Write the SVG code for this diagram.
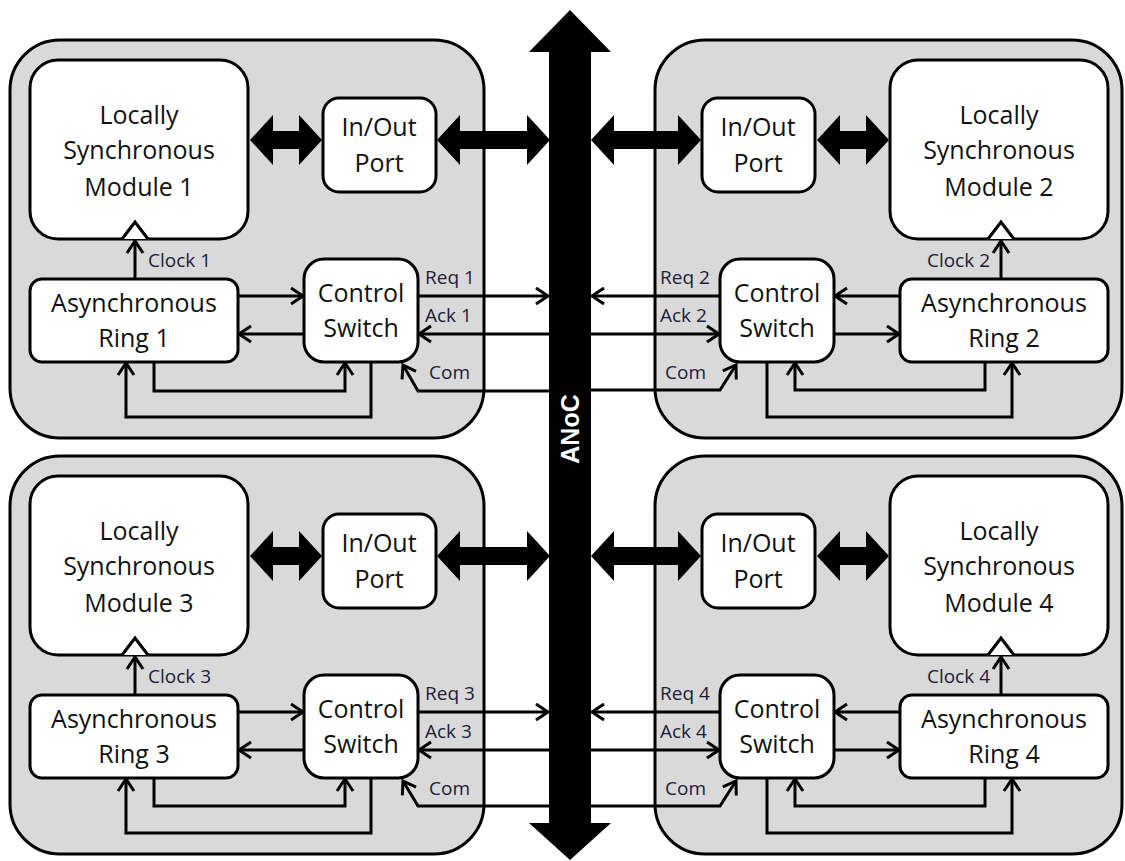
<svg xmlns="http://www.w3.org/2000/svg" width="1125" height="861" viewBox="0 0 1125 861">
<style>
.outer{fill:#d9d9d9;stroke:#000;stroke-width:3}
.box{fill:#fff;stroke:#000;stroke-width:3}
.t{font-family:"Open Sans","Liberation Sans",sans-serif;font-size:25px;fill:#111;text-anchor:middle}
.l{font-family:"Open Sans","Liberation Sans",sans-serif;font-size:19px;fill:#1c1c3c}
.w{fill:none;stroke:#000;stroke-width:3;marker-end:url(#ah)}
.clk{fill:#fff;stroke:#000;stroke-width:3}
.bus{fill:#000}
</style>
<defs>
<marker id="ah" markerUnits="userSpaceOnUse" markerWidth="18" markerHeight="20" viewBox="0 0 18 20" refX="15" refY="10" orient="auto">
<path d="M3,2 L15,10 L3,18" fill="none" stroke="#000" stroke-width="3"/>
</marker>
</defs>

<!-- quadrant frames -->
<g id="tile1"><rect class="outer" x="10" y="40" width="474" height="398" rx="50"/></g>
<g id="tile2"><rect class="outer" x="655" y="40" width="467" height="398" rx="50"/></g>
<g id="tile3"><rect class="outer" x="10" y="456" width="474" height="398" rx="50"/></g>
<g id="tile4"><rect class="outer" x="655" y="456" width="467" height="398" rx="50"/></g>

<!-- ANoC bus -->
<g id="anoc">
<polygon class="bus" points="570,10 611,52 591,52 591,823 611,823 570,860 529,823 549,823 549,52 529,52"/>
<text transform="translate(579,429) rotate(-90)" font-family="Liberation Sans,Arial,sans-serif" font-weight="bold" font-size="25" fill="#fff" text-anchor="middle">ANoC</text>
</g>

<!-- connectors -->
<g id="connectors">
<!-- thick data arrows -->
<polygon class="bus" points="250,140 273,115 273,131 299,131 299,115 322,140 299,165 299,149 273,149 273,165"/>
<polygon class="bus" points="437,140 460,115 460,131 527,131 527,115 550,140 527,165 527,149 460,149 460,165"/>
<polygon class="bus" points="591,140 614,115 614,131 678,131 678,115 701,140 678,165 678,149 614,149 614,165"/>
<polygon class="bus" points="817,140 840,115 840,131 866,131 866,115 889,140 866,165 866,149 840,149 840,165"/>
<polygon class="bus" points="250,556 273,531 273,547 299,547 299,531 322,556 299,581 299,565 273,565 273,581"/>
<polygon class="bus" points="437,556 460,531 460,547 527,547 527,531 550,556 527,581 527,565 460,565 460,581"/>
<polygon class="bus" points="591,556 614,531 614,547 678,547 678,531 701,556 678,581 678,565 614,565 614,581"/>
<polygon class="bus" points="817,556 840,531 840,547 866,547 866,531 889,556 866,581 866,565 840,565 840,581"/>

<!-- quadrant 1 -->
<path class="w" d="M135,279 V241"/>
<path class="w" d="M238,296 H303"/>
<path class="w" d="M304,334 H239"/>
<path class="w" d="M418,296 H548"/>
<path class="w" d="M549,334 H419"/>
<path class="w" d="M549,391 H418 L403,365"/>
<path class="w" d="M154,362 V391 H345 V363"/>
<path class="w" d="M371,362 V417 H126 V363"/>
<!-- quadrant 2 -->
<path class="w" d="M1001,279 V241"/>
<path class="w" d="M900,296 H835"/>
<path class="w" d="M834,334 H899"/>
<path class="w" d="M720,296 H592"/>
<path class="w" d="M591,334 H719"/>
<path class="w" d="M591,390 H720 L736,365"/>
<path class="w" d="M985,362 V390 H795 V363"/>
<path class="w" d="M767,362 V417 H1012 V363"/>
<!-- quadrant 3 -->
<path class="w" d="M135,695 V657"/>
<path class="w" d="M238,712 H303"/>
<path class="w" d="M304,750 H239"/>
<path class="w" d="M418,712 H548"/>
<path class="w" d="M549,750 H419"/>
<path class="w" d="M549,806 H418 L403,781"/>
<path class="w" d="M154,778 V806 H345 V779"/>
<path class="w" d="M371,778 V833 H126 V779"/>
<!-- quadrant 4 -->
<path class="w" d="M1001,695 V657"/>
<path class="w" d="M900,712 H835"/>
<path class="w" d="M834,750 H899"/>
<path class="w" d="M720,712 H592"/>
<path class="w" d="M591,750 H719"/>
<path class="w" d="M591,806 H720 L736,781"/>
<path class="w" d="M985,778 V806 H795 V779"/>
<path class="w" d="M767,778 V833 H1012 V779"/>

<!-- labels -->
<text class="l" x="148" y="267">Clock 1</text>
<text class="l" x="425" y="284">Req 1</text>
<text class="l" x="425" y="322">Ack 1</text>
<text class="l" x="429" y="379">Com</text>
<text class="l" x="990" y="267" text-anchor="end">Clock 2</text>
<text class="l" x="660" y="284">Req 2</text>
<text class="l" x="660" y="322">Ack 2</text>
<text class="l" x="665" y="379">Com</text>
<text class="l" x="148" y="683">Clock 3</text>
<text class="l" x="425" y="700">Req 3</text>
<text class="l" x="425" y="738">Ack 3</text>
<text class="l" x="429" y="795">Com</text>
<text class="l" x="990" y="683" text-anchor="end">Clock 4</text>
<text class="l" x="660" y="700">Req 4</text>
<text class="l" x="660" y="738">Ack 4</text>
<text class="l" x="665" y="795">Com</text>
</g>

<!-- quadrant 1 nodes -->
<g id="module1"><rect class="box" x="30" y="60" width="218" height="179" rx="28"/><polyline class="clk" points="122,239 135,222 148,239"/>
<text class="t" x="139" y="124">Locally</text><text class="t" x="139" y="159">Synchronous</text><text class="t" x="139" y="196">Module 1</text></g>
<g id="port1"><rect class="box" x="323" y="98" width="113" height="94" rx="16"/>
<text class="t" x="379" y="136">In/Out</text><text class="t" x="379" y="172">Port</text></g>
<g id="ring1"><rect class="box" x="30" y="279" width="208" height="83" rx="12"/>
<text class="t" x="134" y="312">Asynchronous</text><text class="t" x="134" y="347">Ring 1</text></g>
<g id="switch1"><rect class="box" x="304" y="259" width="114" height="103" rx="20"/>
<text class="t" x="361" y="302">Control</text><text class="t" x="361" y="337">Switch</text></g>

<!-- quadrant 2 nodes -->
<g id="module2"><rect class="box" x="890" y="60" width="218" height="179" rx="28"/><polyline class="clk" points="988,239 1001,222 1014,239"/>
<text class="t" x="999" y="124">Locally</text><text class="t" x="999" y="159">Synchronous</text><text class="t" x="999" y="196">Module 2</text></g>
<g id="port2"><rect class="box" x="702" y="98" width="113" height="94" rx="16"/>
<text class="t" x="758" y="136">In/Out</text><text class="t" x="758" y="172">Port</text></g>
<g id="ring2"><rect class="box" x="900" y="279" width="208" height="83" rx="12"/>
<text class="t" x="1004" y="312">Asynchronous</text><text class="t" x="1004" y="347">Ring 2</text></g>
<g id="switch2"><rect class="box" x="720" y="259" width="114" height="103" rx="20"/>
<text class="t" x="777" y="302">Control</text><text class="t" x="777" y="337">Switch</text></g>

<!-- quadrant 3 nodes -->
<g id="module3"><rect class="box" x="30" y="476" width="218" height="179" rx="28"/><polyline class="clk" points="122,655 135,638 148,655"/>
<text class="t" x="139" y="540">Locally</text><text class="t" x="139" y="575">Synchronous</text><text class="t" x="139" y="612">Module 3</text></g>
<g id="port3"><rect class="box" x="323" y="514" width="113" height="94" rx="16"/>
<text class="t" x="379" y="552">In/Out</text><text class="t" x="379" y="588">Port</text></g>
<g id="ring3"><rect class="box" x="30" y="695" width="208" height="83" rx="12"/>
<text class="t" x="134" y="728">Asynchronous</text><text class="t" x="134" y="763">Ring 3</text></g>
<g id="switch3"><rect class="box" x="304" y="675" width="114" height="103" rx="20"/>
<text class="t" x="361" y="718">Control</text><text class="t" x="361" y="753">Switch</text></g>

<!-- quadrant 4 nodes -->
<g id="module4"><rect class="box" x="890" y="476" width="218" height="179" rx="28"/><polyline class="clk" points="988,655 1001,638 1014,655"/>
<text class="t" x="999" y="540">Locally</text><text class="t" x="999" y="575">Synchronous</text><text class="t" x="999" y="612">Module 4</text></g>
<g id="port4"><rect class="box" x="702" y="514" width="113" height="94" rx="16"/>
<text class="t" x="758" y="552">In/Out</text><text class="t" x="758" y="588">Port</text></g>
<g id="ring4"><rect class="box" x="900" y="695" width="208" height="83" rx="12"/>
<text class="t" x="1004" y="728">Asynchronous</text><text class="t" x="1004" y="763">Ring 4</text></g>
<g id="switch4"><rect class="box" x="720" y="675" width="114" height="103" rx="20"/>
<text class="t" x="777" y="718">Control</text><text class="t" x="777" y="753">Switch</text></g>
</svg>
